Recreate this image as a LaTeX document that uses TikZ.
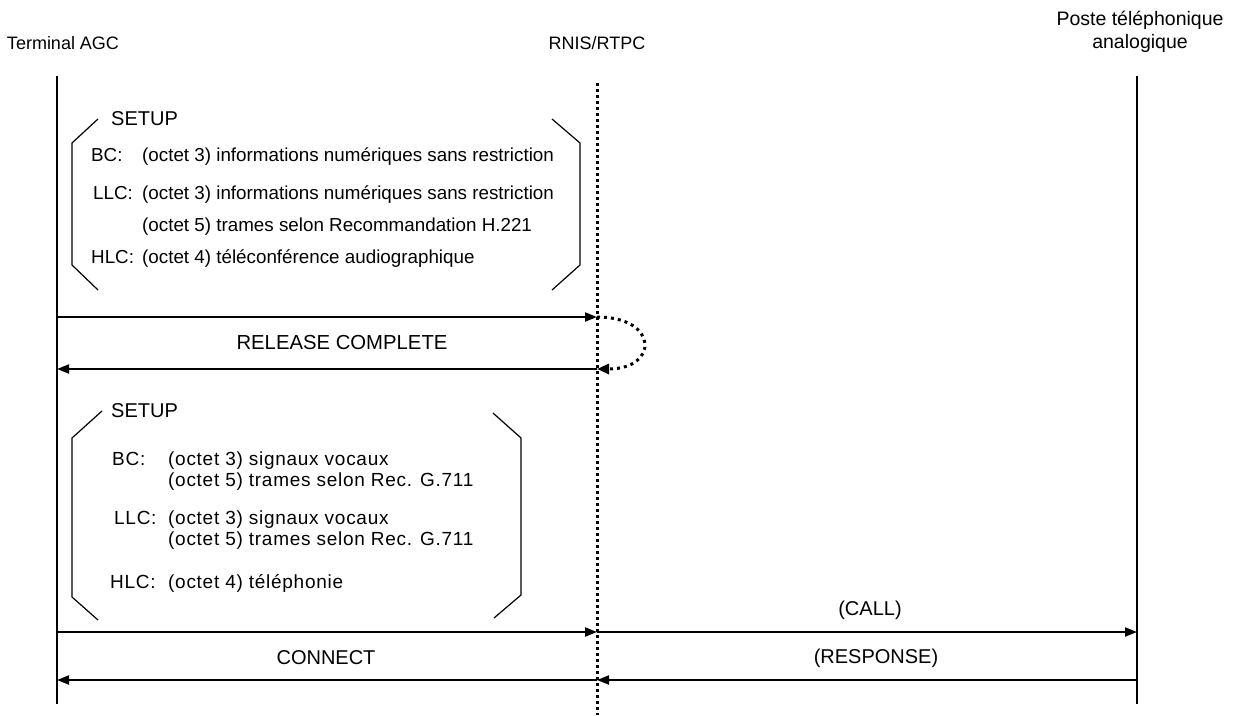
\documentclass[tikz,border=0pt]{standalone}
\usepackage{fontspec}
\setmainfont{Liberation Sans}
\usetikzlibrary{arrows.meta}
\begin{document}
\begin{tikzpicture}[x=1pt,y=-1pt,
  lifeline/.style={line width=2pt},
  netline/.style={line width=3pt,dash pattern=on 3pt off 3pt},
  msg/.style={line width=2pt,-{Triangle[length=12pt,width=9pt]}},
  loopmsg/.style={line width=3pt,dash pattern=on 3pt off 4pt,-{Triangle[length=12pt,width=10pt]}},
  bracket/.style={line width=1.2pt},
  hdr/.style={font=\fontsize{18}{22}\selectfont,inner sep=0pt,align=center},
  hdrbig/.style={font=\fontsize{19.5}{23}\selectfont,inner sep=0pt,align=center},
  lbl/.style={font=\fontsize{20}{22}\selectfont,inner sep=0pt},
  ieA/.style={font=\fontsize{18.8}{22}\selectfont,inner sep=0pt,anchor=base west},
  ieB/.style={font=\fontsize{19}{22}\selectfont\addfontfeatures{LetterSpace=3.8},inner sep=0pt,anchor=base west}]
\useasboundingbox (0,0) rectangle (1238,715);

% entities
\node[hdr] (term) at (63,43) {Terminal AGC};
\node[hdr] (net) at (597,43) {RNIS/RTPC};
\node[hdrbig] (phone) at (1140,32) {Poste téléphonique\\analogique};

% lifelines
\coordinate (tTop) at (57,76);   \coordinate (tBot) at (57,704);
\coordinate (nTop) at (597,83);  \coordinate (nBot) at (597,715);
\coordinate (pTop) at (1137,76); \coordinate (pBot) at (1137,704);
\draw[lifeline] (tTop) -- (tBot);
\draw[lifeline] (pTop) -- (pBot);
\draw[netline] (nTop) -- (nBot);

% first SETUP parameters
\draw[bracket] (98,119) -- (72,143) -- (72,265) -- (98,290);
\draw[bracket] (552,119) -- (580,143) -- (580,265) -- (552,290);
\node[lbl,anchor=base west] (setupA) at (111,125) {SETUP};
\node[ieA] (bcA) at (91,161) {BC:};
\node[ieA] (bcAt) at (142,161) {(octet 3) informations numériques sans restriction};
\node[ieA] (llcA) at (93,199) {LLC:};
\node[ieA] (llcAt) at (142,199) {(octet 3) informations numériques sans restriction};
\node[ieA] (llcAu) at (142,231) {(octet 5) trames selon Recommandation H.221};
\node[ieA] (hlcA) at (91,263) {HLC:};
\node[ieA] (hlcAt) at (142,263) {(octet 4) téléconférence audiographique};

% rejected call
\coordinate (t1) at (57,317);  \coordinate (n1) at (597,317);
\coordinate (t2) at (57,369);  \coordinate (n2) at (597,369);
\draw[msg] (t1) -- (n1);
\draw[loopmsg] (n1) .. controls (659,317) and (659,369) .. (n2);
\draw[msg] (n2) -- (t2);
\node[font=\fontsize{20.3}{22}\selectfont,inner sep=0pt] (rel) at (342,343) {RELEASE COMPLETE};

% second SETUP parameters
\draw[bracket] (102,411) -- (72,438) -- (72,597) -- (98,620);
\draw[bracket] (493,413) -- (521,438) -- (521,595) -- (494,618);
\node[lbl,anchor=base west] (setupB) at (111,417) {SETUP};
\node[ieB] (bcB) at (112,465) {BC:};
\node[ieB] (bcBt) at (168,465) {(octet 3) signaux vocaux};
\node[ieB] (bcBu) at (168,486) {(octet 5) trames selon Rec. G.711};
\node[ieB] (llcB) at (114,524) {LLC:};
\node[ieB] (llcBt) at (168,524) {(octet 3) signaux vocaux};
\node[ieB] (llcBu) at (168,545) {(octet 5) trames selon Rec. G.711};
\node[ieB] (hlcB) at (110,588) {HLC:};
\node[ieB] (hlcBt) at (168,588) {(octet 4) téléphonie};

% accepted call
\coordinate (t3) at (57,632);  \coordinate (n3) at (597,632);  \coordinate (p3) at (1137,632);
\coordinate (t4) at (57,680);  \coordinate (n4) at (597,680);  \coordinate (p4) at (1137,680);
\draw[msg] (t3) -- (n3);
\draw[msg] (n3) -- (p3);
\draw[msg] (p4) -- (n4);
\draw[msg] (n4) -- (t4);
\node[lbl] (call) at (870,610) {(CALL)};
\node[lbl] (resp) at (876,658) {(RESPONSE)};
\node[lbl] (conn) at (326,658) {CONNECT};
\end{tikzpicture}
\end{document}
